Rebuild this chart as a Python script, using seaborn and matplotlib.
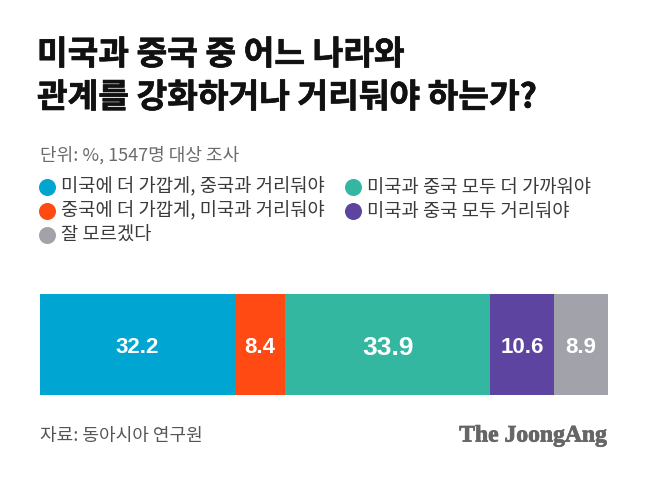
import numpy as np
import pandas as pd
import matplotlib
matplotlib.use("Agg")
import matplotlib.pyplot as plt
import matplotlib.patheffects as pe
import seaborn as sns

# data
categories = ["미국에 더 가깝게, 중국과 거리둬야",
              "중국에 더 가깝게, 미국과 거리둬야",
              "미국과 중국 모두 더 가까워야",
              "미국과 중국 모두 거리둬야",
              "잘 모르겠다"]
values = [32.2, 8.4, 33.9, 10.6, 8.9]
colors = ["#00A5D1", "#FF4A14", "#33B7A0", "#5C44A0", "#A2A2AB"]

title_lines = ["미국과 중국 중 어느 나라와", "관계를 강화하거나 거리둬야 하는가?"]
subtitle = "단위: %, 1547명 대상 조사"
source = "자료: 동아시아 연구원"
logo = "The JoongAng"

sns.set_theme(style="white")
plt.rcParams["font.family"] = ["Noto Sans CJK KR", "DejaVu Sans"]

df = pd.DataFrame({"category": categories, "value": values, "color": colors})
df["cum"] = df["value"].cumsum()
df["mid"] = df["cum"] - df["value"] / 2
df["row"] = "all"

W, H = 650, 478
fig = plt.figure(figsize=(W / 100, H / 100), dpi=100)
fig.patch.set_facecolor("white")

# canvas in pixel coords for the texts
canvas = fig.add_axes([0, 0, 1, 1])
canvas.set_xlim(0, W)
canvas.set_ylim(H, 0)
canvas.axis("off")

# stacked bar: draw cumulative bars from longest to shortest
ax = fig.add_axes([40 / W, (H - 395) / H, 568 / W, 101 / H])
order = df["category"].tolist()[::-1]
sns.barplot(data=df, x="cum", y="row", hue="category", hue_order=order,
            palette=dict(zip(df["category"], df["color"])), dodge=False,
            width=1, saturation=1, linewidth=0, legend=False, ax=ax)
ax.set_xlim(0, df["value"].sum())
ax.set_ylim(0.5, -0.5)
ax.axis("off")

vmax = df["value"].max()
for _, r in df.iterrows():
    ax.text(r["mid"], 0.03, f"{r['value']:.1f}", ha="center", va="center",
            color="white", fontweight="bold",
            fontsize=19 if r["value"] == vmax else 16,
            family=["Liberation Sans", "DejaVu Sans"])

# title
for i, line in enumerate(title_lines):
    canvas.text(37, 55 + i * 43, line, ha="left", va="center",
                fontsize=24, fontweight="black", color="#111111",
                path_effects=[pe.withStroke(linewidth=0.5, foreground="#111111")])

canvas.text(40, 155, subtitle, ha="left", va="center", fontsize=13,
            fontweight="medium", color="#6b6b6b")

# legend
legend_pos = [(0, 0), (1, 0), (0, 1), (1, 1), (2, 0)]
row_y = [187, 211, 235]
col_x = [47, 353]
for (rr, cc), cat, col in zip(legend_pos, categories, colors):
    canvas.scatter(col_x[cc], row_y[rr], s=150, color=col, linewidths=0)
    canvas.text(col_x[cc] + 14, row_y[rr], cat, ha="left", va="center",
                fontsize=13.5, fontweight="medium", color="#3a3a3a")

canvas.text(40, 436, source, ha="left", va="center", fontsize=13,
            fontweight="medium", color="#555555")
canvas.text(607, 436, logo, ha="right", va="center", fontsize=17, fontweight="bold",
            color="#666666", family=["Liberation Serif", "DejaVu Serif"],
            path_effects=[pe.withStroke(linewidth=0.6, foreground="#666666")])

fig.savefig("out.png", dpi=100, facecolor="white")
